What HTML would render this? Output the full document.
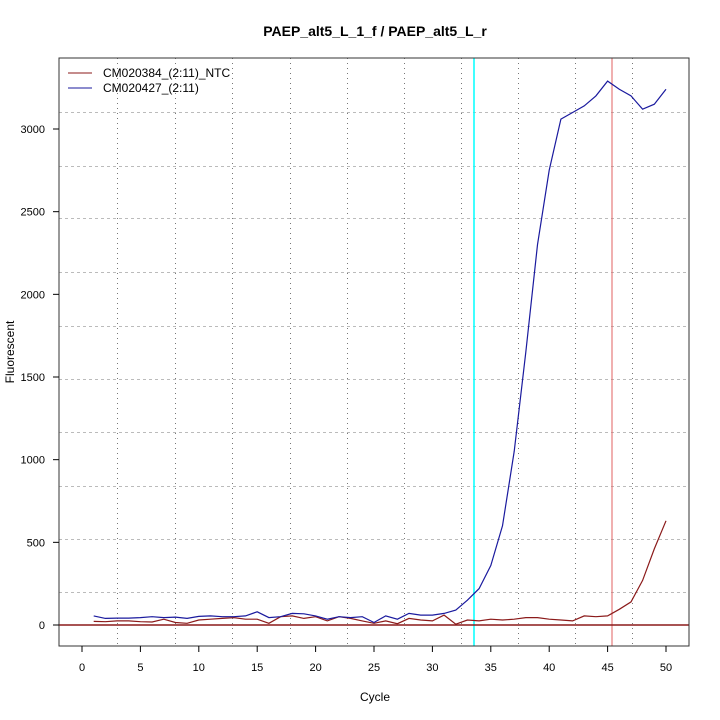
<!DOCTYPE html>
<html><head><meta charset="utf-8"><style>body{margin:0;background:#fff}svg{display:block;font-family:"Liberation Sans",sans-serif}</style></head>
<body>
<svg id="s" width="720" height="720" xmlns="http://www.w3.org/2000/svg">
<rect width="720" height="720" fill="#fff"/>
<text x="375" y="36" font-size="14" font-weight="bold" text-anchor="middle">PAEP_alt5_L_1_f / PAEP_alt5_L_r</text>
<g id="grid" stroke-width="1" shape-rendering="crispEdges"></g>
<line x1="474" y1="58" x2="474" y2="646" stroke="#00ffff" stroke-width="1.5"/>
<line x1="612" y1="58" x2="612" y2="646" stroke="#e06060" stroke-width="1"/>
<line x1="59" y1="625" x2="689" y2="625" stroke="#8b1a1a" stroke-width="1.5"/>
<polyline id="red" fill="none" stroke="#8b1a1a" stroke-width="1.2"/>
<polyline id="blue" fill="none" stroke="#1a1a9e" stroke-width="1.2"/>
<rect x="59" y="58" width="630" height="588" fill="none" stroke="#333" stroke-width="1"/>
<g id="ax" font-size="11" fill="#000"></g>
<line x1="68" y1="73" x2="92" y2="73" stroke="#8b1a1a"/>
<line x1="68" y1="88" x2="92" y2="88" stroke="#1a1a9e"/>
<text x="103" y="77" font-size="12">CM020384_(2:11)_NTC</text>
<text x="103" y="92" font-size="12">CM020427_(2:11)</text>
<text x="375" y="701" font-size="12" text-anchor="middle">Cycle</text>
<text x="14" y="352" font-size="12" text-anchor="middle" transform="rotate(-90 14 352)">Fluorescent</text>
</svg>
<script>
const X=c=>82+c*11.68, Y=v=>625-v*0.16533;
const blue=[55,40,42,42,45,50,45,48,40,52,55,50,50,55,80,45,50,70,68,55,35,50,45,50,15,55,35,70,60,60,70,90,150,220,360,600,1050,1650,2300,2750,3060,3100,3140,3200,3290,3240,3200,3120,3150,3240];
const red=[22,20,25,25,20,18,35,15,10,30,35,40,45,35,35,10,50,55,40,50,25,50,40,25,10,25,8,40,30,25,60,5,30,25,35,30,35,45,45,35,30,25,55,50,55,95,140,270,460,630];
const pts=a=>a.map((v,i)=>X(i+1).toFixed(1)+","+Y(v).toFixed(1)).join(" ");
document.getElementById("blue").setAttribute("points",pts(blue));
document.getElementById("red").setAttribute("points",pts(red));
let g="";
[117,175,232,290,347,404,461,518,575,632].forEach(x=>g+=`<line x1="${x}.5" y1="58" x2="${x}.5" y2="646" stroke="#777" stroke-dasharray="1,4"/>`);
[112,166,218,272,326,379,432,486,539,592].forEach(y=>g+=`<line x1="59" y1="${y}.5" x2="689" y2="${y}.5" stroke="#bbb" stroke-dasharray="3,3"/>`);
document.getElementById("grid").innerHTML=g;
let a="";
for(let c=0;c<=50;c+=5){const x=X(c);a+=`<line x1="${x}" y1="646" x2="${x}" y2="652" stroke="#000"/><text x="${x}" y="671" text-anchor="middle">${c}</text>`;}
for(let v=0;v<=3000;v+=500){const y=Y(v);a+=`<line x1="53" y1="${y}" x2="59" y2="${y}" stroke="#000"/><text x="45" y="${y+4}" text-anchor="end">${v}</text>`;}
document.getElementById("ax").innerHTML=a;
</script>
</body></html>
